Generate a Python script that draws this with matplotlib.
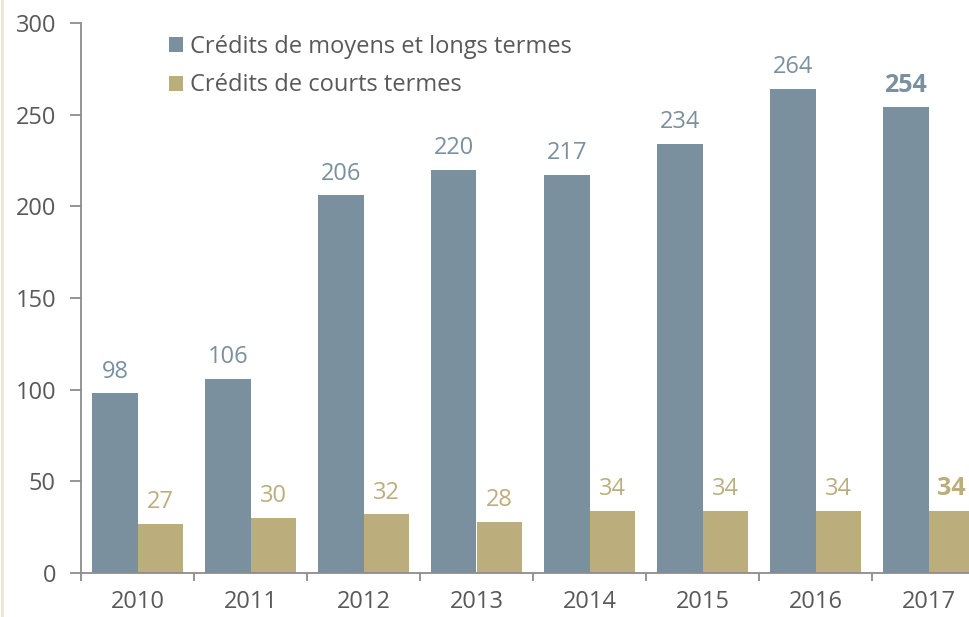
import matplotlib.pyplot as plt
import numpy as np
from matplotlib.lines import Line2D

years = ["2010", "2011", "2012", "2013", "2014", "2015", "2016", "2017"]
long_terms = [98, 106, 206, 220, 217, 234, 264, 254]
short_terms = [27, 30, 32, 28, 34, 34, 34, 34]
yticks = [0, 50, 100, 150, 200, 250, 300]

blue = "#7a909e"
khaki = "#bcae7c"
grey_txt = "#595959"
spine = "#8c8c8c"

plt.rcParams['font.family'] = ['Open Sans', 'DejaVu Sans']
fs = 17

fig = plt.figure(figsize=(9.69, 6.17), dpi=100)
# group width 113 px, axis runs off the right edge
ax = fig.add_axes([81/969, 44/617, (969-81)/969, 550/617])

x = np.arange(len(years))
w = 0.4
ax.bar(x - w/2, long_terms, w, color=blue, label="Crédits de moyens et longs termes")
ax.bar(x + w/2, short_terms, w, color=khaki, label="Crédits de courts termes")

last = len(years) - 1
for i, v in enumerate(long_terms):
    ax.annotate(str(v), (x[i] - w/2, v), xytext=(0, 7), textcoords="offset points",
                ha="center", va="bottom", color=blue,
                fontsize=fs + 1 if i == last else fs,
                fontweight="bold" if i == last else "normal")
for i, v in enumerate(short_terms):
    ax.annotate(str(v), (x[i] + w/2, v), xytext=(0, 7), textcoords="offset points",
                ha="center", va="bottom", color=khaki,
                fontsize=fs + 1 if i == last else fs,
                fontweight="bold" if i == last else "normal")

ax.set_xlim(-0.5, -0.5 + (969-81)/113)
ax.set_ylim(0, 300)
ax.set_yticks(yticks)
ax.set_xticks(x)
ax.set_xticklabels(years)
ax.xaxis.set_minor_locator(plt.FixedLocator(np.arange(0, len(years)) - 0.5))

ax.tick_params(axis="x", which="major", length=0, pad=12, labelsize=fs, labelcolor=grey_txt)
ax.tick_params(axis="x", which="minor", length=6, width=1.3, color=spine, direction="out")
ax.tick_params(axis="y", length=8, width=1.3, color=spine, pad=10, labelsize=fs, labelcolor=grey_txt)

for s in ["top", "right"]:
    ax.spines[s].set_visible(False)
for s in ["left", "bottom"]:
    ax.spines[s].set_color(spine)
    ax.spines[s].set_linewidth(1.3)

ax.legend(loc="upper left", bbox_to_anchor=(148/969, 1 - 14/617), bbox_transform=fig.transFigure,
          frameon=False, fontsize=fs, labelcolor=grey_txt, handlelength=0.6, handleheight=0.6,
          handletextpad=0.3, labelspacing=0.6)

fig.add_artist(Line2D([2/969, 2/969], [0, 1], transform=fig.transFigure, color="#ece6d6", lw=2))

fig.savefig("out.png", dpi=100)
